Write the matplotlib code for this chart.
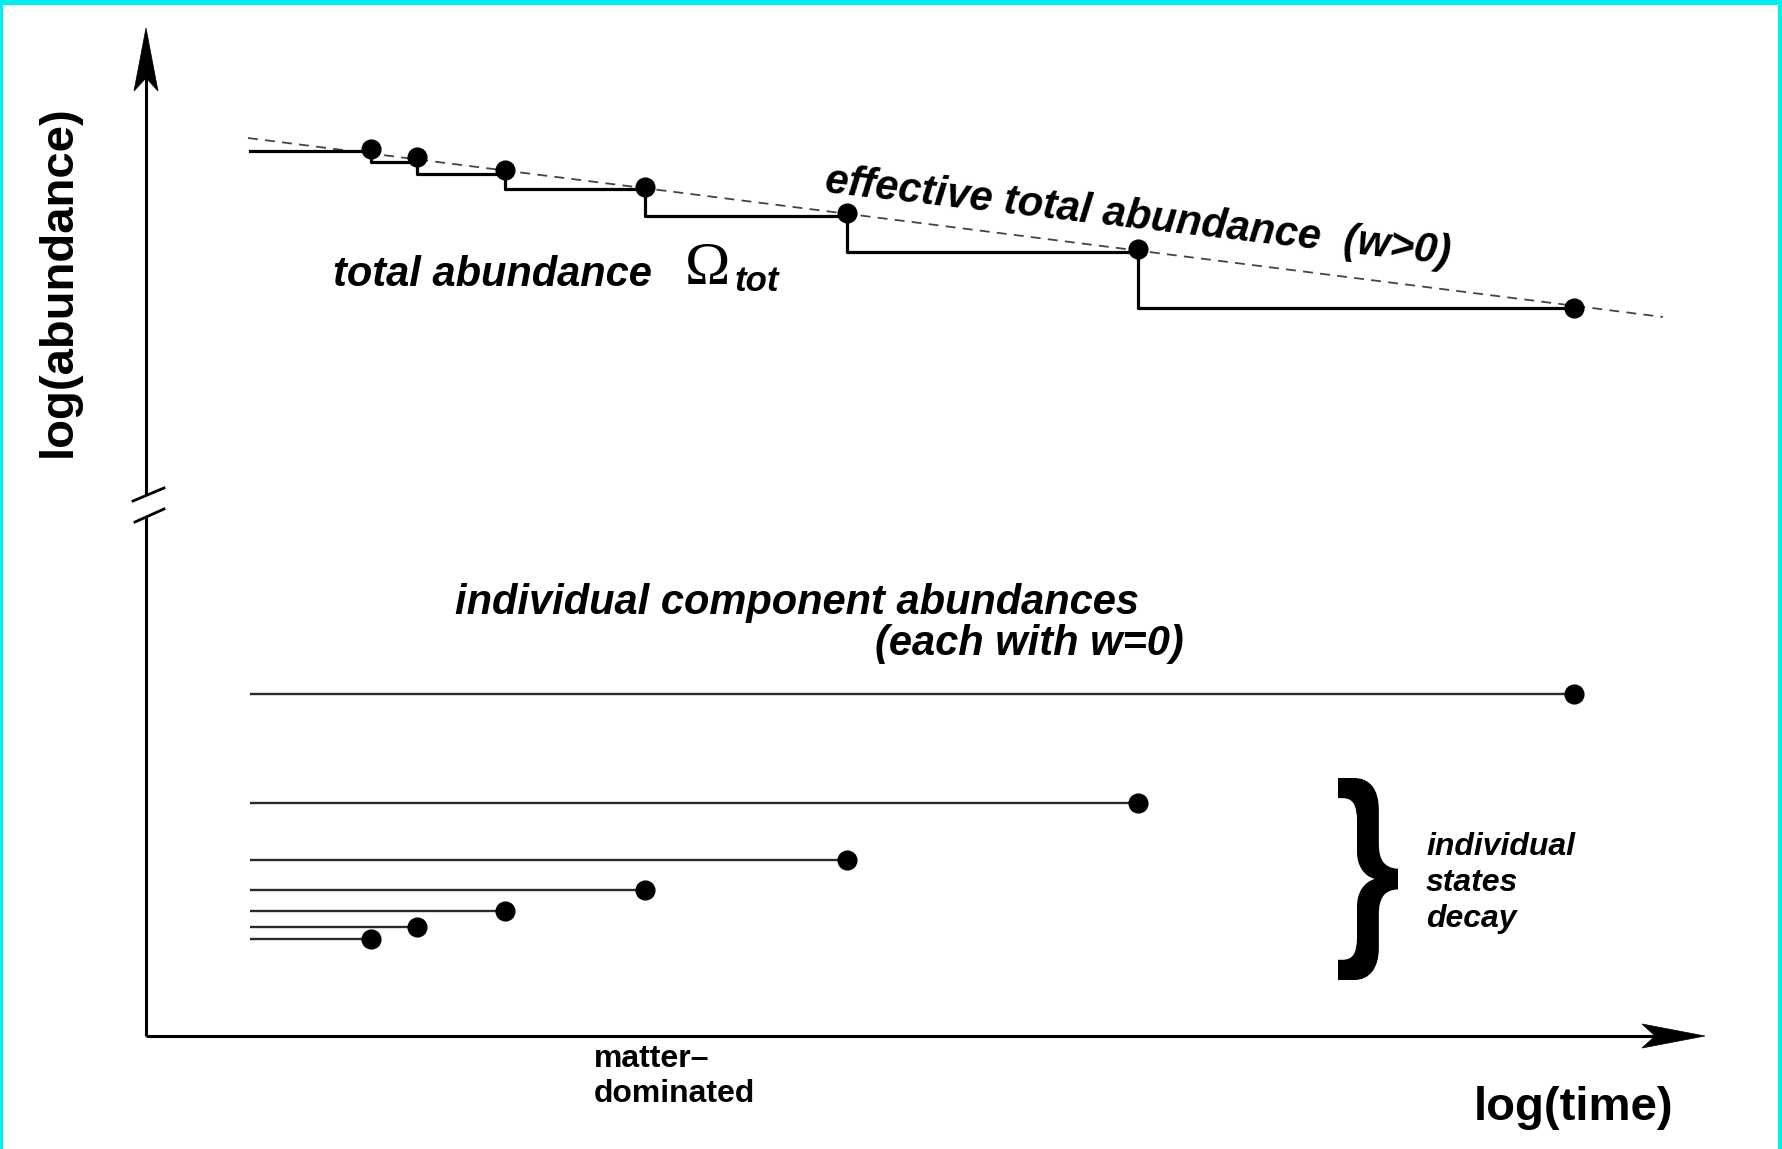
import matplotlib
matplotlib.use("Agg")
import matplotlib.pyplot as plt
from matplotlib.patches import Polygon, Rectangle, PathPatch
from matplotlib.textpath import TextPath
from matplotlib.font_manager import FontProperties
from matplotlib.transforms import Affine2D

plt.rcParams['font.family'] = ['Liberation Sans', 'DejaVu Sans']

# log(time) at which each state decays (arbitrary units)
decay_t = [2.25, 2.71, 3.59, 4.99, 7.01, 9.92, 14.28]
t_start = 1.04
# effective total abundance at each decay (on the dashed line)
omega_eff = [8.87, 8.79, 8.66, 8.49, 8.23, 7.87, 7.28]
# total abundance levels: before the first decay, then after each decay
omega_tot = [8.85, 8.74, 8.62, 8.47, 8.20, 7.84, 7.28]
# dashed w>0 trend line end points
eff_t = [1.02, 15.17]
eff_y = [8.98, 7.19]
# individual component abundances (w=0), one per state
component = [0.97, 1.09, 1.25, 1.46, 1.76, 2.33, 3.42]

fig = plt.figure(figsize=(17.82, 11.49), dpi=100)
ax = fig.add_axes([0, 0, 1, 1])
ax.set_xlim(-1.46, 16.36)
ax.set_ylim(-1.13, 10.36)
ax.axis('off')

# cyan frame of the original screenshot
for rect in [(0, 1 - 5 / 1149, 1, 5 / 1149), (0, 0, 3 / 1782, 1), (1 - 4 / 1782, 0, 4 / 1782, 1)]:
    fig.add_artist(Rectangle(rect[:2], rect[2], rect[3], transform=fig.transFigure,
                             color='#00f0f0', lw=0))

# axes with arrow heads
lw_axis = 2.2
ax.plot([0, 0], [0, 10.0], color='black', lw=lw_axis, solid_capstyle='butt')
ax.plot([0, 15.45], [0, 0], color='black', lw=lw_axis, solid_capstyle='butt')


def arrow_head(tip, direction, length=0.63, width=0.24, notch=0.13):
    tx, ty = tip
    dx, dy = direction
    nx, ny = -dy, dx
    pts = [(tx, ty),
           (tx - dx * length + nx * width / 2, ty - dy * length + ny * width / 2),
           (tx - dx * (length - notch), ty - dy * (length - notch)),
           (tx - dx * length - nx * width / 2, ty - dy * length - ny * width / 2)]
    ax.add_patch(Polygon(pts, closed=True, fc='black', ec='black', lw=0.5, zorder=5))


arrow_head((0, 10.08), (0, 1))
arrow_head((15.59, 0), (1, 0))

# axis break
ax.add_patch(Rectangle((-0.05, 5.19), 0.1, 0.22, fc='white', ec='none', zorder=3))
ax.plot([-0.13, 0.18], [5.35, 5.48], color='black', lw=2.0, zorder=4)
ax.plot([-0.11, 0.18], [5.14, 5.27], color='black', lw=2.0, zorder=4)

# effective total abundance (dashed) and total abundance (steps)
ax.plot(eff_t, eff_y, color='#444444', lw=1.3, dashes=(5.5, 4))
ax.step([t_start] + decay_t, omega_tot + [omega_tot[-1]], where='post',
        color='black', lw=2.3)
ax.plot(decay_t, omega_eff, 'o', color='black', ms=13.5, zorder=6)

# individual components
ax.hlines(component, t_start, decay_t, color='#2a2a2a', lw=1.7)
ax.plot(decay_t, component, 'o', color='black', ms=13.5, zorder=6)

# brace
tp = TextPath((0, 0), '}', size=1, prop=FontProperties(family='Liberation Sans', weight='bold'))
ext = tp.get_extents()
bx0, bx1, by0, by1 = 11.92, 12.52, 0.56, 2.58
tr = (Affine2D().translate(-ext.x0, -ext.y0)
      .scale((bx1 - bx0) / ext.width, (by1 - by0) / ext.height)
      .translate(bx0, by0))
ax.add_patch(PathPatch(tr.transform_path(tp), fc='black', ec='none'))

# labels
ax.text(-0.87, 7.55, 'log(abundance)', rotation=90, ha='center', va='center',
        fontsize=34, fontweight='bold')
ax.text(14.28, -0.72, 'log(time)', ha='center', va='center', fontsize=34, fontweight='bold')
ax.text(4.48, -0.08, 'matter–\ndominated', ha='left', va='top', fontsize=23,
        fontweight='bold', linespacing=1.2)

ax.text(1.87, 7.50, 'total abundance', ha='left', va='baseline', fontsize=30,
        fontweight='bold', style='italic')
ax.text(5.39, 7.52, 'Ω', ha='left', va='baseline', fontsize=44,
        family='Liberation Serif')
ax.text(5.89, 7.45, 'tot', ha='left', va='baseline', fontsize=25,
        fontweight='bold', style='italic')
ax.text(6.78, 8.44, 'effective total abundance  (w>0)', ha='left', va='baseline',
        rotation=-6.6, rotation_mode='anchor', fontsize=30, fontweight='bold', style='italic')

ax.text(3.09, 4.22, 'individual component abundances', ha='left', va='baseline',
        fontsize=30, fontweight='bold', style='italic')
ax.text(7.29, 3.81, '(each with w=0)', ha='left', va='baseline',
        fontsize=30, fontweight='bold', style='italic')
ax.text(12.80, 1.53, 'individual\nstates\ndecay', ha='left', va='center',
        fontsize=23, fontweight='bold', style='italic', linespacing=1.25)

fig.savefig('out.png', dpi=100, facecolor='white')
